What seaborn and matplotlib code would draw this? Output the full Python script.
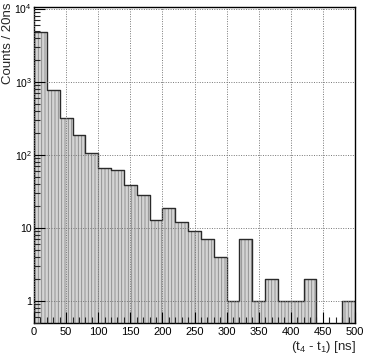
import numpy as np
import pandas as pd
import seaborn as sns
import matplotlib.pyplot as plt
from matplotlib.ticker import FixedLocator, FixedFormatter, MultipleLocator, LogLocator, NullFormatter

# bin edges every 20 ns from 0 to 500
bin_edges = list(range(0, 520, 20))
bin_centers = [e + 10 for e in bin_edges[:-1]]
# counts per 20 ns bin
counts = [4840, 770, 315, 184, 105, 66, 61, 38, 28, 13, 19, 12, 9, 7, 4,
          1, 7, 1, 2, 1, 1, 2, 0, 0, 1]

y_ticks = [1, 10, 100, 1000, 10000]
y_labels = ["1", "10", "$10^{2}$", "$10^{3}$", "$10^{4}$"]

df = pd.DataFrame({"dt": bin_centers, "n": counts})

sns.set_style("white")
plt.rcParams["font.family"] = ["Liberation Sans", "DejaVu Sans"]
plt.rcParams["mathtext.fontset"] = "custom"
plt.rcParams["mathtext.rm"] = "Liberation Sans"
plt.rcParams["hatch.linewidth"] = 0.6

fig = plt.figure(figsize=(3.66, 3.58), dpi=100)
ax = fig.add_axes([34 / 366, 1 - 323 / 358, 321 / 366, 316 / 358])

# patterned fill (ROOT-like dotted pattern)
sns.histplot(data=df, x="dt", weights="n", bins=bin_edges, element="bars",
             color="#d4d4d4", edgecolor="#888888", linewidth=0, hatch="|||||",
             alpha=1, ax=ax)
# outline
sns.histplot(data=df, x="dt", weights="n", bins=bin_edges, element="step",
             fill=False, color="#2a2a2a", linewidth=1.0, ax=ax)

ax.set_yscale("log")
ax.set_xlim(0, 500)
ax.set_ylim(0.5, 1.05e4)

ax.yaxis.set_major_locator(FixedLocator(y_ticks))
ax.yaxis.set_major_formatter(FixedFormatter(y_labels))
ax.yaxis.set_minor_locator(LogLocator(base=10, subs=np.arange(2, 10)))
ax.yaxis.set_minor_formatter(NullFormatter())
ax.xaxis.set_major_locator(MultipleLocator(50))
ax.xaxis.set_minor_locator(MultipleLocator(10))

ax.tick_params(axis="both", which="major", direction="in", length=8, width=0.8,
               colors="black")
ax.tick_params(axis="y", which="major", pad=1.5, labelsize=7.5)
ax.tick_params(axis="x", which="major", pad=3, labelsize=8)
ax.tick_params(axis="both", which="minor", direction="in", length=4, width=0.8)
ax.tick_params(left=True, bottom=True, right=False, top=False)
ax.tick_params(which="minor", left=True, bottom=True, right=False, top=False)

ax.grid(True, which="major", color="#777777", linestyle=(0, (1, 1.5)), linewidth=0.7)
ax.set_axisbelow(False)

for s in ax.spines.values():
    s.set_color("black")
    s.set_linewidth(1.0)

ax.set_ylabel("")
ax.set_xlabel("")
fig.text(8.5 / 366, 1 - 2 / 358, "Counts / 20ns", rotation=90, ha="center",
         va="top", fontsize=9.5)
fig.text(356 / 366, 1 - 347 / 358, "(t$_{4}$ - t$_{1}$) [ns]", ha="right",
         va="center", fontsize=9.5)

fig.savefig("out.png", dpi=100)
